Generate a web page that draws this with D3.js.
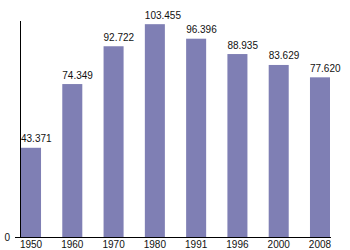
<!DOCTYPE html>
<html>
<head>
<meta charset="utf-8">
<script src="https://cdn.jsdelivr.net/npm/d3@7"></script>
<style>
  html, body { margin: 0; padding: 0; background: #fff; }
  svg { display: block; font-family: "Liberation Sans", Arial, sans-serif; }
</style>
</head>
<body>
<svg id="chart" width="350" height="250"></svg>
<script>
const years = ["1950", "1960", "1970", "1980", "1991", "1996", "2000", "2008"];
const population = [43.371, 74.349, 92.722, 103.455, 96.396, 88.935, 83.629, 77.620];
const valueLabels = ["43.371", "74.349", "92.722", "103.455", "96.396", "88.935", "83.629", "77.620"];
const yTicks = [0];

const svg = d3.select("#chart");
const x = d3.scaleBand().domain(years).range([21, 330]).paddingInner(0.515).paddingOuter(0);
const y = d3.scaleLinear().domain([0, 105]).range([237, 21]);

// bars
svg.append("g").selectAll("rect")
  .data(years)
  .join("rect")
  .attr("x", (d) => x(d))
  .attr("y", (d, i) => y(population[i]))
  .attr("width", x.bandwidth())
  .attr("height", (d, i) => y(0) - y(population[i]))
  .attr("fill", "#7f7fb4");

// value labels
svg.append("g").selectAll("text")
  .data(years)
  .join("text")
  .attr("x", (d) => x(d))
  .attr("y", (d, i) => y(population[i]) - 5.5)
  .attr("font-size", 10)
  .attr("fill", "#111")
  .text((d, i) => valueLabels[i]);

// x axis
const xAxis = svg.append("g")
  .attr("transform", `translate(0,${y(0)})`)
  .call(d3.axisBottom(x).tickSize(0).tickPadding(4));
xAxis.select(".domain").remove();
xAxis.selectAll("text").attr("font-size", 10).attr("fill", "#111").attr("font-family", null);

// y axis
const yAxis = svg.append("g")
  .attr("transform", `translate(21,0)`)
  .call(d3.axisLeft(y).tickValues(yTicks).tickSize(0).tickPadding(11).tickFormat(d3.format("d")));
yAxis.select(".domain").remove();
yAxis.selectAll("text").attr("font-size", 10).attr("fill", "#111").attr("font-family", null);

// axis lines
svg.append("line")
  .attr("x1", 15).attr("x2", 331)
  .attr("y1", y(0) + 0.5).attr("y2", y(0) + 0.5)
  .attr("stroke", "#000").attr("stroke-width", 1);
svg.append("line")
  .attr("x1", 20.5).attr("x2", 20.5)
  .attr("y1", y(105)).attr("y2", y(0) + 0.5)
  .attr("stroke", "#000").attr("stroke-width", 1);
</script>
</body>
</html>
